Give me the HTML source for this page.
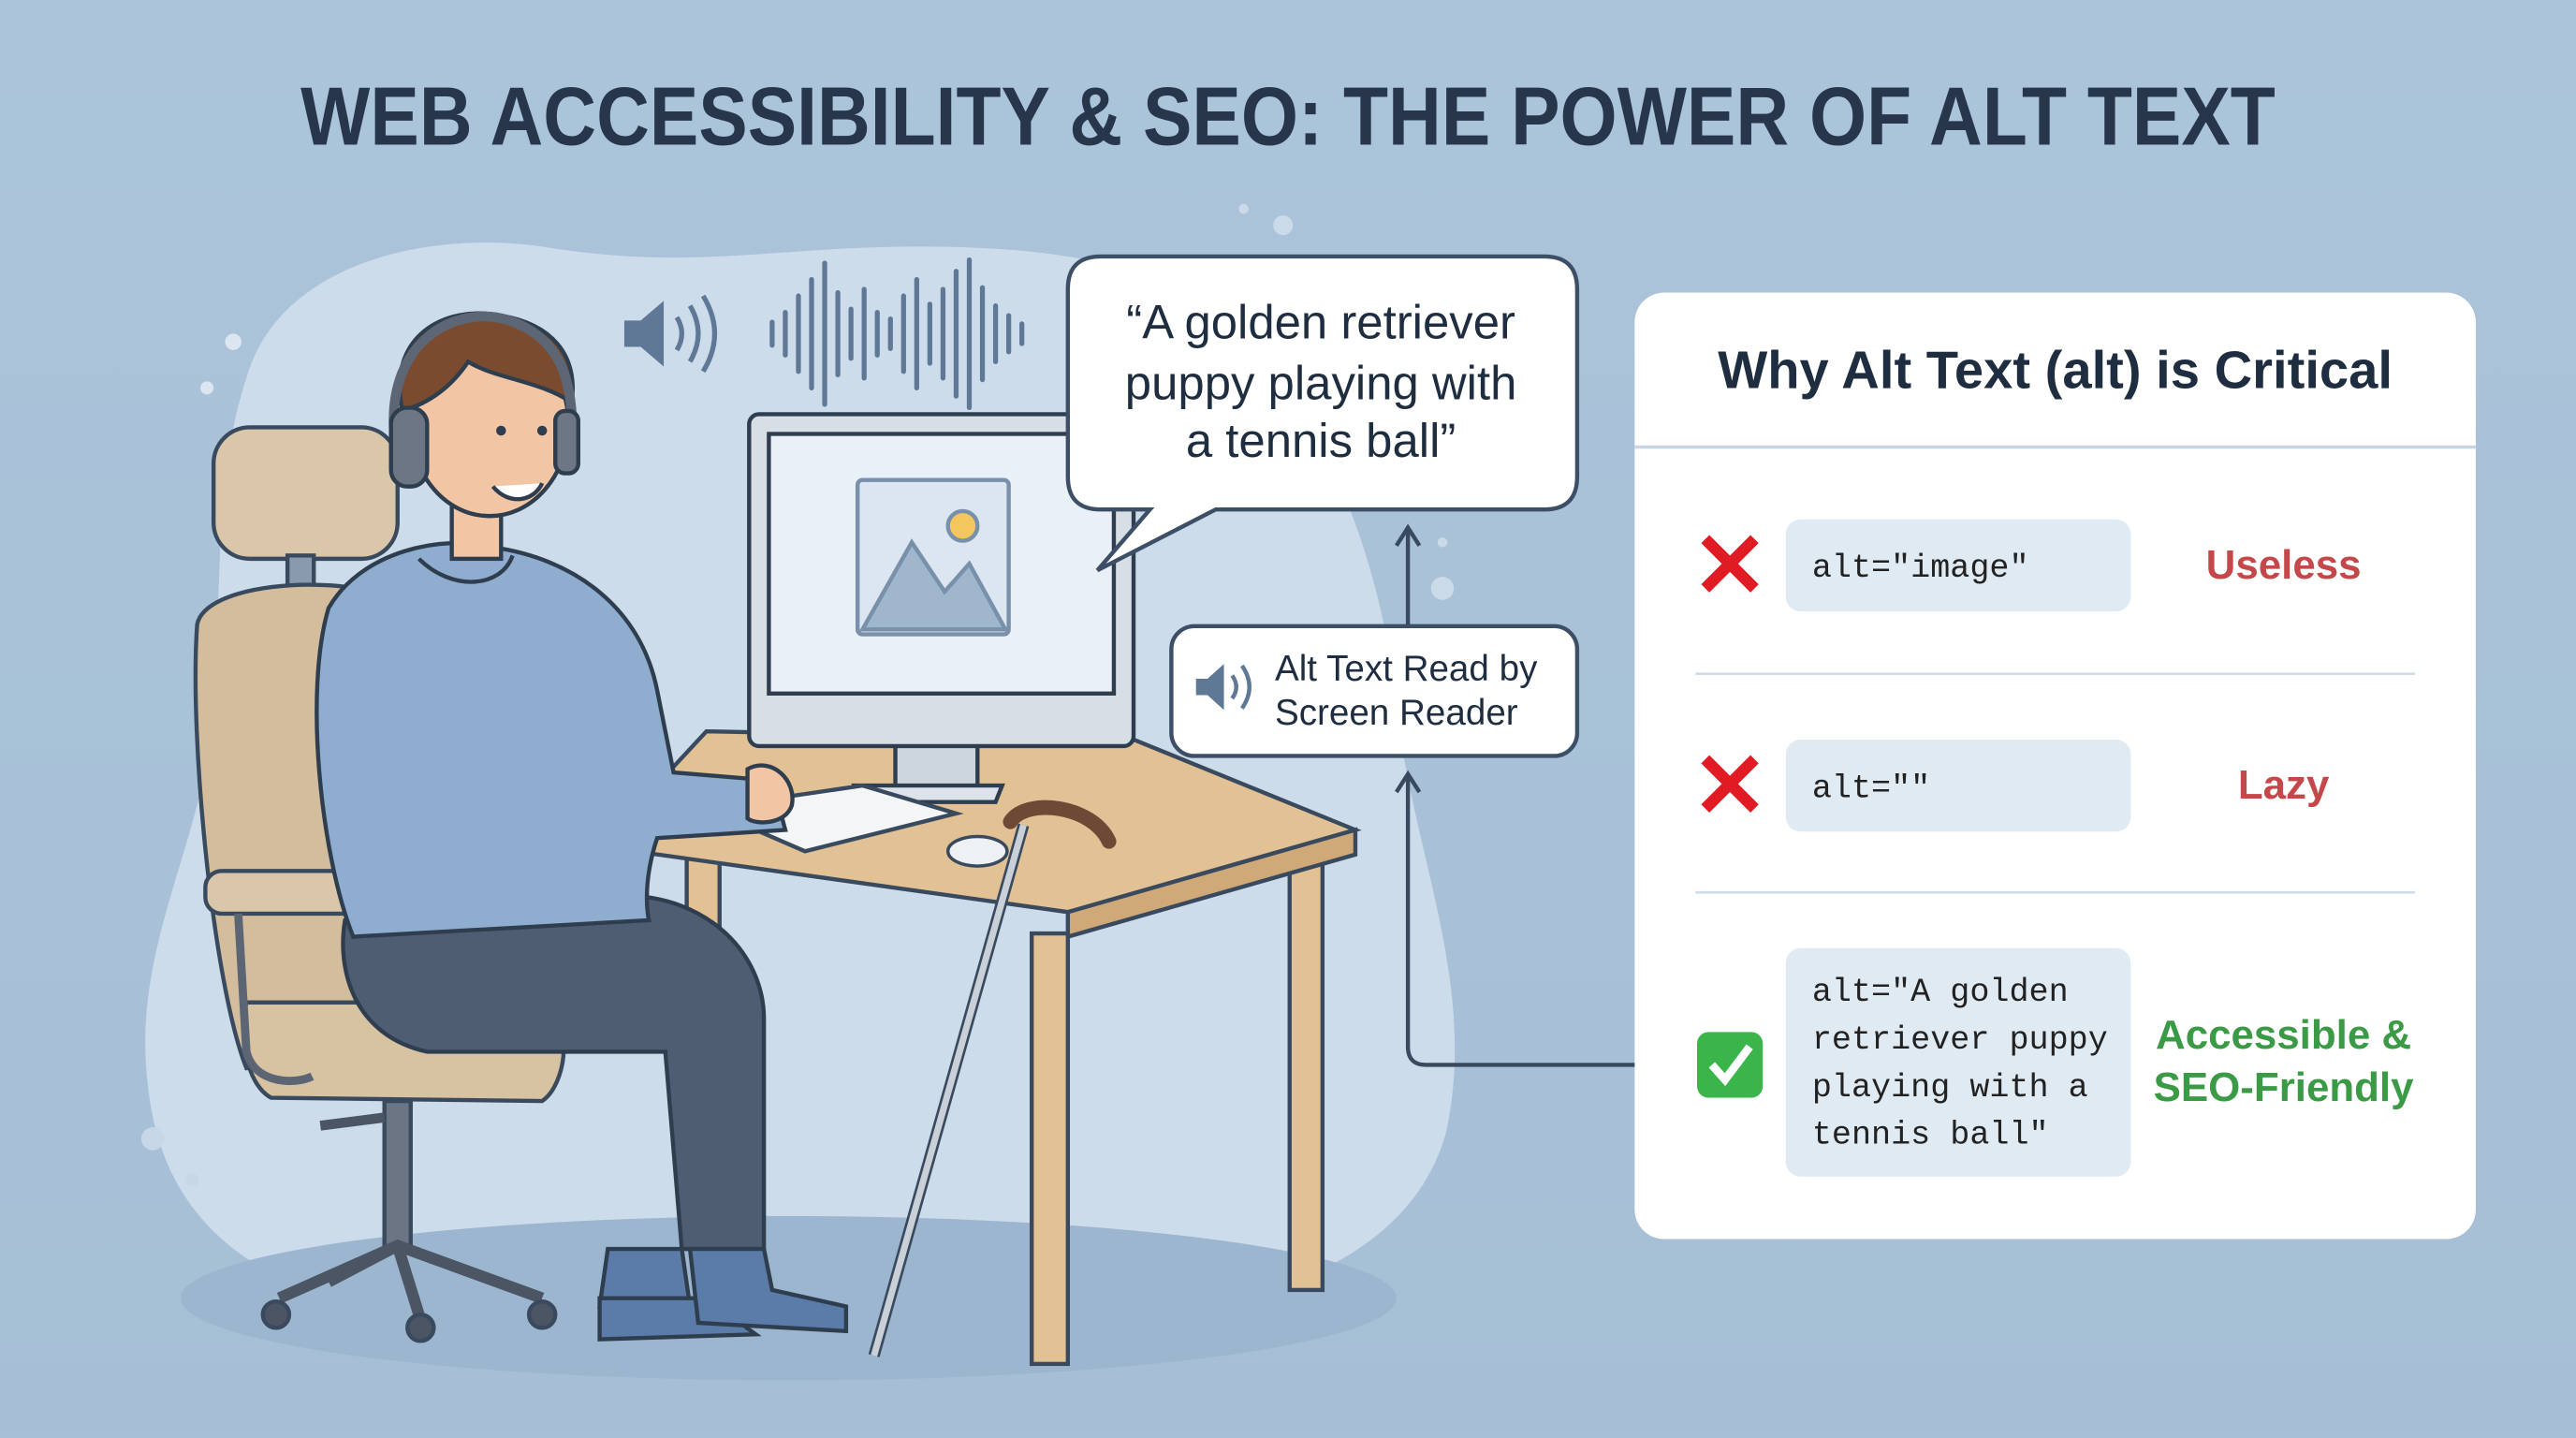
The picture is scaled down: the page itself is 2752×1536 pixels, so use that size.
<!DOCTYPE html>
<html><head><meta charset="utf-8"><style>
html,body{margin:0;padding:0;background:#aac3d9;}
svg{display:block;}
text{font-family:"Liberation Sans","DejaVu Sans",sans-serif;}
text.mono{font-family:"Liberation Mono","DejaVu Sans Mono",monospace;}
</style></head><body>
<svg width="2752" height="1536" viewBox="0 0 1568 875" xmlns="http://www.w3.org/2000/svg">
<defs>
<linearGradient id="bg" x1="0" y1="0" x2="0" y2="1"><stop offset="0" stop-color="#abc4da"/><stop offset="1" stop-color="#a6bfd6"/></linearGradient>
</defs>
<rect width="1568" height="875" fill="url(#bg)"/>
<text x="784" y="88" text-anchor="middle" font-size="50" font-weight="bold" fill="#27364b" textLength="1202" lengthAdjust="spacingAndGlyphs">WEB ACCESSIBILITY &amp; SEO: THE POWER OF ALT TEXT</text>
<path d="M150,230 C170,160 260,140 330,150 C420,165 470,150 560,150 C640,150 700,160 740,190 C800,240 840,330 850,430 C860,520 900,600 880,690 C860,760 780,800 650,805 L300,805 C180,800 100,760 90,660 C80,580 120,520 130,440 C135,360 130,290 150,230 Z" fill="#cddceb"/>
<ellipse cx="480" cy="790" rx="370" ry="50" fill="#9db6cf"/>
<circle cx="142" cy="208" r="5" fill="#dbe6f0"/><circle cx="126" cy="236" r="4" fill="#dbe6f0"/>
<circle cx="93" cy="693" r="7" fill="#c7d7e7"/><circle cx="117" cy="718" r="4" fill="#c7d7e7"/>
<circle cx="878" cy="358" r="7" fill="#cbdae8"/><circle cx="878" cy="330" r="3" fill="#cbdae8"/>
<circle cx="781" cy="137" r="6" fill="#cbdae8"/><circle cx="757" cy="127" r="3" fill="#cbdae8"/>
<path d="M380,195 h10 l14,-12 v40 l-14,-12 h-10 z" fill="#5f7896"/>
<path d="M412,193 q6,10 0,20 M420,186 q10,17 0,34 M428,180 q14,23 0,46" fill="none" stroke="#5f7896" stroke-width="3"/>
<g stroke="#5f7896" stroke-width="3" stroke-linecap="round">
<line x1="470" y1="196" x2="470" y2="210"/><line x1="478" y1="190" x2="478" y2="216"/><line x1="486" y1="180" x2="486" y2="226"/><line x1="494" y1="170" x2="494" y2="236"/><line x1="502" y1="160" x2="502" y2="246"/><line x1="510" y1="178" x2="510" y2="228"/><line x1="518" y1="188" x2="518" y2="218"/><line x1="526" y1="176" x2="526" y2="230"/><line x1="534" y1="190" x2="534" y2="216"/><line x1="542" y1="194" x2="542" y2="212"/><line x1="550" y1="180" x2="550" y2="226"/><line x1="558" y1="170" x2="558" y2="236"/><line x1="566" y1="185" x2="566" y2="221"/><line x1="574" y1="176" x2="574" y2="230"/><line x1="582" y1="165" x2="582" y2="241"/><line x1="590" y1="158" x2="590" y2="248"/><line x1="598" y1="175" x2="598" y2="231"/><line x1="606" y1="186" x2="606" y2="220"/><line x1="614" y1="192" x2="614" y2="214"/><line x1="622" y1="197" x2="622" y2="209"/>
</g>
<g stroke="#3a4a5e" stroke-width="2.5">
<rect x="130" y="260" width="112" height="80" rx="22" fill="#dac6a8"/>
<rect x="175" y="338" width="16" height="25" fill="#8a9aad"/>
<path d="M120,380 C125,355 200,350 232,362 L240,640 L150,650 C130,600 115,450 120,380 Z" fill="#d4bd9c"/>
<path d="M150,610 L330,610 C350,620 345,660 330,670 L165,668 C150,660 145,630 150,610 Z" fill="#d7c2a2"/>
<rect x="125" y="530" width="140" height="26" rx="10" fill="#dac6a8"/>
<path d="M145,556 L150,640 C155,660 180,660 190,655" fill="none" stroke="#5b6574" stroke-width="5"/>
<rect x="234" y="670" width="16" height="90" fill="#6b7584"/>
<path d="M170,790 L242,758 L330,790 M242,758 L255,800 M242,758 L200,780" fill="none" stroke="#4b5564" stroke-width="7"/>
<circle cx="168" cy="800" r="8" fill="#4b5564"/><circle cx="256" cy="808" r="8" fill="#4b5564"/><circle cx="330" cy="800" r="8" fill="#4b5564"/>
<line x1="195" y1="685" x2="234" y2="680" stroke="#4b5564" stroke-width="6"/>
</g>
<g stroke="#3a4a5e" stroke-width="2.5" fill="#e2c195">
<rect x="418" y="520" width="20" height="240"/>
<rect x="785" y="505" width="20" height="280"/>
<path d="M365,515 L430,445 L690,450 L825,505 L650,555 Z"/>
<path d="M650,555 L825,505 L825,520 L650,570 Z" fill="#cfa978"/>
<rect x="628" y="568" width="22" height="262"/>
</g>
<g stroke="#2f3e4f" stroke-width="2.5">
<rect x="545" y="450" width="50" height="30" fill="#cdd5de"/>
<path d="M520,478 L610,478 L606,488 L524,488 Z" fill="#dde3ea"/>
<rect x="456" y="252" width="234" height="202" rx="6" fill="#d7dee6"/>
<rect x="468" y="264" width="210" height="158" fill="#e9f0f7"/>
<rect x="522" y="292" width="92" height="94" rx="3" fill="#dbe6f0" stroke="#7890aa"/>
<path d="M525,383 L555,330 L575,360 L590,343 L612,383 Z" fill="#9fb6cc" stroke="#7890aa"/>
<circle cx="586" cy="320" r="9" fill="#f3c65e" stroke="#7890aa"/>
</g>
<path d="M430,492 L525,478 L582,495 L490,518 Z" fill="#f3f5f7" stroke="#3a4a5e" stroke-width="2.5"/>
<ellipse cx="595" cy="518" rx="18" ry="9" fill="#eef1f4" stroke="#3a4a5e" stroke-width="2"/>
<g stroke="#2f3e4f" stroke-width="2.5">
<path d="M210,560 L380,545 C430,545 465,580 465,620 L465,760 L415,760 L405,640 L260,640 C215,630 205,590 210,560 Z" fill="#4f5d73"/>
<path d="M370,760 L415,760 L420,795 L365,795 Z" fill="#5b7ca8"/>
<path d="M365,790 L430,790 L460,812 L365,815 Z" fill="#5b7ca8"/>
<path d="M420,760 L465,760 L470,785 L515,795 L515,810 L425,805 Z" fill="#5b7ca8"/>
<path d="M200,370 C220,335 270,325 300,333 C350,340 390,370 400,420 L410,470 L470,475 L478,505 L400,510 C390,540 395,560 395,560 L215,570 C195,520 185,420 200,370 Z" fill="#8fadce"/>
<path d="M255,340 C275,360 305,358 312,338" fill="none"/>
<path d="M455,468 C470,460 485,475 482,490 C478,502 460,502 455,498 Z" fill="#f2c6a4"/>
<rect x="275" y="275" width="30" height="65" fill="#f2c6a4"/>
<ellipse cx="298" cy="258" rx="48" ry="56" fill="#f2c6a4"/>
<path d="M245,250 C235,205 270,185 305,192 C335,197 352,215 348,245 C330,232 300,230 285,220 C275,235 262,245 245,250 Z" fill="#7b4b2f"/>
<path d="M240,265 C235,205 280,185 310,195 C340,205 350,230 348,270" fill="none" stroke="#5d6674" stroke-width="6"/>
<rect x="238" y="248" width="22" height="48" rx="10" fill="#6d7684"/>
<rect x="338" y="250" width="14" height="38" rx="6" fill="#6d7684"/>
<path d="M300,296 C310,308 325,305 330,294" fill="#fff"/>
</g>
<circle cx="305" cy="262" r="3" fill="#2f3e4f"/><circle cx="330" cy="262" r="3" fill="#2f3e4f"/>
<line x1="532" y1="825" x2="623" y2="502" stroke="#3a4a5e" stroke-width="7"/>
<line x1="532" y1="825" x2="623" y2="502" stroke="#c9d0d8" stroke-width="4"/>
<path d="M615,500 C625,485 665,490 675,512" fill="none" stroke="#6e4a36" stroke-width="9" stroke-linecap="round"/>
<path d="M670,156 L940,156 Q960,156 960,176 L960,290 Q960,310 940,310 L740,310 L668,347 L700,310 L670,310 Q650,310 650,290 L650,176 Q650,156 670,156 Z" fill="#fff" stroke="#3d4f66" stroke-width="2.5"/>
<g font-size="29" fill="#1f2d40" text-anchor="middle">
<text x="804" y="206">“A golden retriever</text>
<text x="804" y="243">puppy playing with</text>
<text x="804" y="278">a tennis ball”</text>
</g>
<rect x="713" y="381" width="247" height="79" rx="14" fill="#fff" stroke="#3d4f66" stroke-width="2.5"/>
<path d="M728,413 h7 l10,-9 v28 l-10,-9 h-7 z" fill="#5f7896"/>
<path d="M750,411 q5,7 0,14 M756,405 q9,13 0,26" fill="none" stroke="#5f7896" stroke-width="2.5"/>
<g font-size="22" fill="#1f2d40"><text x="776" y="414">Alt Text Read by</text><text x="776" y="441">Screen Reader</text></g>
<g fill="none" stroke="#3a4a5e" stroke-width="2.5">
<path d="M1022,648 L868,648 Q857,648 857,637 L857,472"/>
<path d="M850,482 L857,471 L864,482"/>
<path d="M857,380 L857,322"/>
<path d="M850,332 L857,321 L864,332"/>
</g>
<rect x="995" y="178" width="512" height="576" rx="18" fill="#fff"/>
<text x="1251" y="236" text-anchor="middle" font-size="32" font-weight="bold" fill="#1f2d40">Why Alt Text (alt) is Critical</text>
<line x1="995" y1="272" x2="1507" y2="272" stroke="#c9d6e2" stroke-width="2"/>
<line x1="1032" y1="410" x2="1470" y2="410" stroke="#d0dce7" stroke-width="1.5"/>
<line x1="1032" y1="543" x2="1470" y2="543" stroke="#d0dce7" stroke-width="1.5"/>
<rect x="1087" y="316" width="210" height="56" rx="9" fill="#dfeaf3"/>
<rect x="1087" y="450" width="210" height="56" rx="9" fill="#dfeaf3"/>
<rect x="1087" y="577" width="210" height="139" rx="9" fill="#dfeaf3"/>
<g stroke="#e01b24" stroke-width="7">
<path d="M1038,328 L1068,358 M1068,328 L1038,358"/>
<path d="M1038,462 L1068,492 M1068,462 L1038,492"/>
</g>
<rect x="1033" y="628" width="40" height="40" rx="7" fill="#39b54a"/>
<path d="M1042,648 L1050,657 L1065,637" fill="none" stroke="#fff" stroke-width="5"/>
<g font-size="20" fill="#222">
<text class="mono" x="1103" y="351">alt="image"</text>
<text class="mono" x="1103" y="485">alt=""</text>
<text class="mono" x="1103" y="609">alt="A golden</text>
<text class="mono" x="1103" y="638">retriever puppy</text>
<text class="mono" x="1103" y="667">playing with a</text>
<text class="mono" x="1103" y="696">tennis ball"</text>
</g>
<g font-size="25" font-weight="bold" text-anchor="middle">
<text x="1390" y="352" fill="#c4474a">Useless</text>
<text x="1390" y="486" fill="#c4474a">Lazy</text>
<text x="1390" y="638" fill="#3a9a45">Accessible &amp;</text>
<text x="1390" y="670" fill="#3a9a45">SEO-Friendly</text>
</g>
</svg>
</body></html>
